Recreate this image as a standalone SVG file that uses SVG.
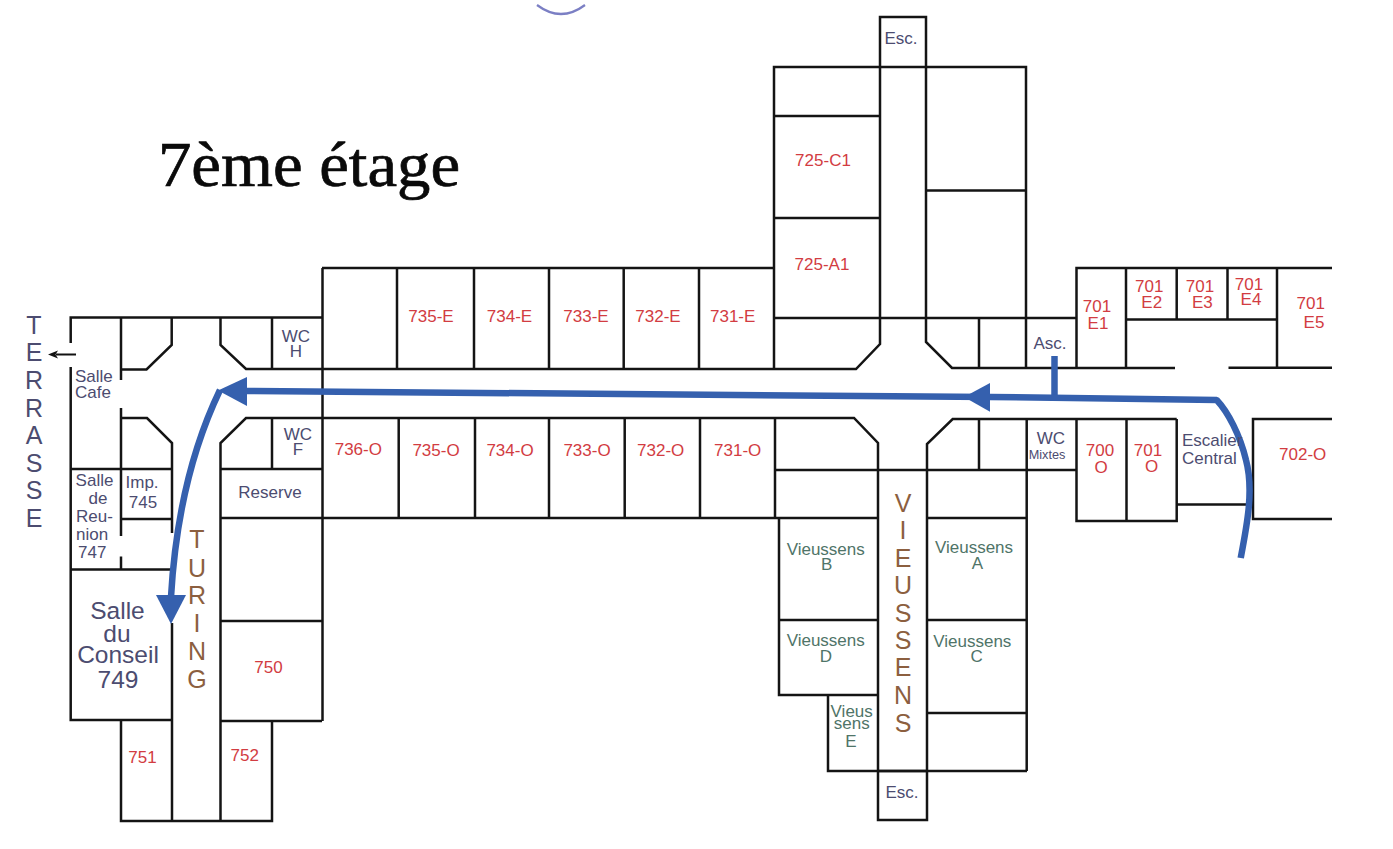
<svg xmlns="http://www.w3.org/2000/svg" width="1393" height="849" viewBox="0 0 1393 849">
<defs>
<style>
.w{fill:none;stroke:#141414;stroke-width:2.5;stroke-linejoin:miter}
.r{fill:none;stroke:#3560ae;stroke-width:6.5;stroke-linecap:butt;stroke-linejoin:bevel}
.h{fill:#3560ae}
text{font-family:"Liberation Sans",Arial,sans-serif;font-size:17px;text-anchor:middle}
.red{fill:#d23c42}
.ink{fill:#4c4c70}
.brn{fill:#8c5f3f;font-size:25px}
.grn{fill:#4f7468}
.st{text-anchor:start}
.big{font-size:24.5px}
</style>
<marker id="tip" markerWidth="12" markerHeight="12" refX="2" refY="5" orient="auto" markerUnits="userSpaceOnUse"><path d="M10 5 0 1 2.5 5 0 9Z" fill="#111"/></marker>
</defs>
<rect width="1393" height="849" fill="#fff"/>
<path d="M537 5Q561 23 585 5" fill="none" stroke="#7b7fc4" stroke-width="2.2"/>
<text id="title" x="309" y="186" textLength="302" lengthAdjust="spacingAndGlyphs" style="font-family:'Liberation Serif','Times New Roman',serif;font-size:64px;fill:#0a0a0a;stroke:#0a0a0a;stroke-width:.7">7ème étage</text>

<g id="walls" class="w">
<path d="M70.7 343V317.5H322M70.7 367V720H172M70 469H172M70 569.5H170M121 556.5V569.5"/>
<path d="M121 317.5V380M121 369.5H146.5L171.7 345V317.5"/>
<path d="M121 408V536M121 418H147L172 443V533M172 623V821M121 519H172"/>
<path d="M220.5 317.5V345L246 369H856L880 344V17H926V342L952 368H1175"/>
<path d="M272 317.5V369M272 418V469"/>
<path d="M220.5 821V443L246 418H854L878 443V820H927V444L952.7 419H1176.7"/>
<path d="M220.5 469H322M220.5 518H775M220.5 621H322M220.5 721H322M322.5 268V721"/>
<path d="M121 720V821H272V721"/>
<path d="M322 268H774M397 268V369M474 268V369M549 268V369M623.7 268V369M699 268V369"/>
<path d="M398.7 418V518M475 418V518M549 418V518M624.7 418V518M700 418V518"/>
<path d="M774 369V67H1026V368M774 116H880M774 218H880M774 318H1076.5M926 190.5H1026M979 318V368M878 67H926"/>
<path d="M775 418V518M775 470H1027M775 518H878M779 518V695H878M779 620H878M828 695V771H1027"/>
<path d="M979 419V470M1026.7 419V771M927 518H1026.7M927 620H1026.7M927 713H1026.7M878 771H927"/>
<path d="M1332 268H1076.5V368M1126 268V367M1126 319.5H1277M1176.7 268V319.5M1227.5 268V319.5M1277 268V367.7M1228.5 367.7H1332"/>
<path d="M1026 470H1076.5M1076.5 419V521H1176.7V419M1126.5 419V521M1176.7 504.5H1253M1332 419H1253V519H1332"/>
</g>

<g id="connectors">
<path d="M76 354.5H56" fill="none" stroke="#111" stroke-width="2" marker-end="url(#tip)"/>
<path class="r" d="M1054.5 356V397"/>
<path class="r" d="M1240.7 558C1247 525 1254 490 1246 460C1240 435 1228 412 1216.7 400L990 397 245 391"/>
<path class="h" d="M964 397 990 383V411.7Z"/>
<path class="h" d="M218 390.5 247 377V406Z"/>
<path class="r" d="M220 390C196 440 176 510 171 597"/>
<path class="h" d="M171 624 156 595H186Z"/>
</g>

<g id="labels">
<text class="ink" x="34 34 34 34 34 34 34 34" y="334 361 389 417 444 472 499 527" style="font-size:25px">TERRASSE</text>
<text class="brn" x="197 197 197 197 197 197" y="548 577 604 632 660 688">TURING</text>
<text class="brn" x="903 903 903 903 903 903 903 903 903" y="512 539 567 594 622 649 676 704 732">VIEUSSENS</text>

<text class="ink st" x="75" y="382">Salle</text>
<text class="ink st" x="75" y="398">Cafe</text>
<text class="ink" x="296" y="342">WC</text><text class="ink" x="296" y="357">H</text>
<text class="ink" x="298" y="440">WC</text><text class="ink" x="298" y="455">F</text>
<text class="ink st" x="125.5" y="488">Imp.</text><text class="ink" x="143" y="508">745</text>
<text class="ink" x="270" y="498">Reserve</text>
<text class="ink" x="94.5" y="486">Salle</text><text class="ink" x="98" y="504">de</text>
<text class="ink st" x="76" y="522">Reu-</text><text class="ink st" x="76" y="540">nion</text><text class="ink st" x="78" y="558">747</text>
<text class="ink big" x="117.5" y="619">Salle</text><text class="ink big" x="117" y="642">du</text>
<text class="ink big" x="118" y="663">Conseil</text><text class="ink big" x="118" y="688">749</text>
<text class="ink" x="901" y="43.5">Esc.</text>
<text class="ink" x="902" y="798">Esc.</text>
<text class="ink" x="1050" y="349">Asc.</text>
<text class="ink" x="1051" y="443.5">WC</text>
<text class="ink" x="1047" y="459" style="font-size:12.7px">Mixtes</text>
<text class="ink st" x="1182" y="446">Escalier</text><text class="ink st" x="1182" y="464">Central</text>

<text class="red" x="268.5" y="673">750</text>
<text class="red" x="142.5" y="763">751</text>
<text class="red" x="244.7" y="761">752</text>
<text class="red" x="823" y="166">725-C1</text>
<text class="red" x="822" y="270">725-A1</text>
<text class="red" x="431" y="322">735-E</text>
<text class="red" x="509.5" y="322">734-E</text>
<text class="red" x="586" y="322">733-E</text>
<text class="red" x="658" y="322">732-E</text>
<text class="red" x="732.7" y="322">731-E</text>
<text class="red" x="358.3" y="455">736-O</text>
<text class="red" x="436" y="455.7">735-O</text>
<text class="red" x="510" y="455.7">734-O</text>
<text class="red" x="587" y="455.7">733-O</text>
<text class="red" x="660.7" y="455.7">732-O</text>
<text class="red" x="737.7" y="455.7">731-O</text>
<text class="red" x="1097" y="311.7">701</text><text class="red" x="1098" y="329.3">E1</text>
<text class="red" x="1149.3" y="291.7">701</text><text class="red" x="1151.7" y="307.7">E2</text>
<text class="red" x="1200" y="291.7">701</text><text class="red" x="1202.3" y="307.7">E3</text>
<text class="red" x="1249" y="290">701</text><text class="red" x="1251" y="305">E4</text>
<text class="red" x="1310.7" y="309.3">701</text><text class="red" x="1314" y="328.3">E5</text>
<text class="red" x="1100" y="456">700</text><text class="red" x="1101" y="472.7">O</text>
<text class="red" x="1148" y="456">701</text><text class="red" x="1151.7" y="472">O</text>
<text class="red" x="1302.7" y="460">702-O</text>

<text class="grn" x="825.7" y="555">Vieussens</text><text class="grn" x="826.7" y="570">B</text>
<text class="grn" x="974" y="553.3">Vieussens</text><text class="grn" x="977.3" y="569">A</text>
<text class="grn" x="825.7" y="645.7">Vieussens</text><text class="grn" x="826" y="661.7">D</text>
<text class="grn" x="972.3" y="646.7">Vieussens</text><text class="grn" x="976.7" y="662.3">C</text>
<text class="grn" x="851.7" y="716.7">Vieus</text><text class="grn" x="851.7" y="729.3">sens</text><text class="grn" x="851" y="746.7">E</text>
</g>
</svg>
